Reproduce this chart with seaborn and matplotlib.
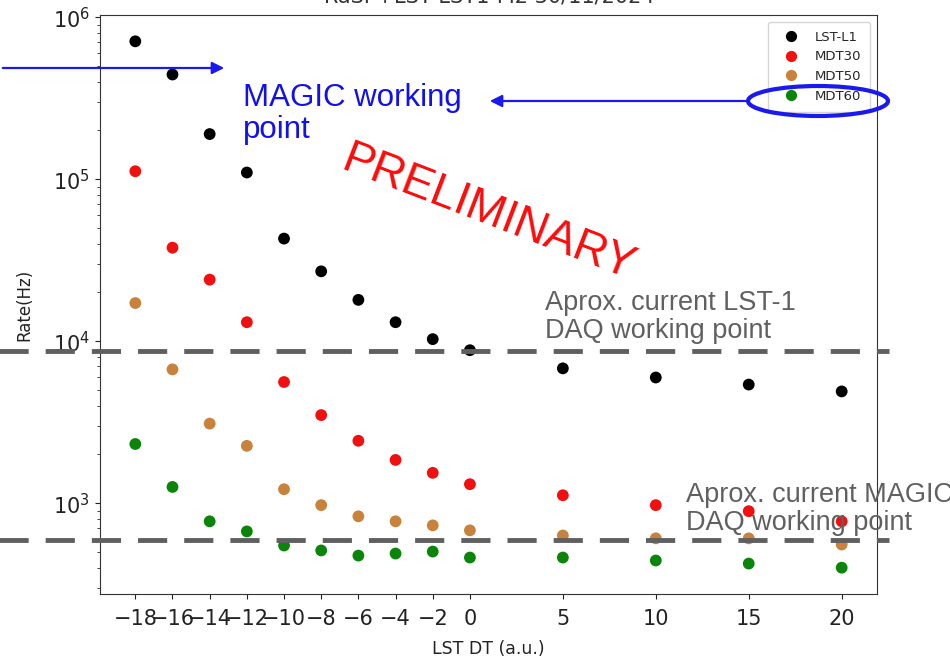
import matplotlib
matplotlib.use("Agg")
import matplotlib.pyplot as plt
from matplotlib.patches import Ellipse, FancyArrowPatch
import seaborn as sns
import pandas as pd

# trigger rates vs LST delay
dt = [-18, -16, -14, -12, -10, -8, -6, -4, -2, 0, 5, 10, 15, 20]
lst_l1 = [710e3, 443e3, 190e3, 110e3, 43e3, 27e3, 18e3, 13.1e3, 10.3e3, 8.8e3,
          6.8e3, 5.97e3, 5.4e3, 4.9e3]
mdt30 = [112e3, 37.8e3, 24e3, 13.1e3, 5.6e3, 3.5e3, 2.43e3, 1.85e3, 1.54e3,
         1.31e3, 1.12e3, 973, 893, 773]
mdt50 = [17.2e3, 6.7e3, 3.1e3, 2.26e3, 1.22e3, 973, 830, 773, 730, 680,
         632, 607, 607, 556]
mdt60 = [2320, 1260, 773, 670, 548, 511, 475, 489, 503, 462, 462, 443, 424, 400]
series_names = ["LST-L1", "MDT30", "MDT50", "MDT60"]
lst1_daq_rate = 8.7e3
magic_daq_rate = 590

df = pd.concat([
    pd.DataFrame({"dt": dt, "rate": vals, "trigger": name})
    for name, vals in zip(series_names, [lst_l1, mdt30, mdt50, mdt60])
])

sns.set_style("ticks")
W, H = 950, 661
fig = plt.figure(figsize=(9.5, 6.61), dpi=100)
ax = fig.add_axes([100 / W, 1 - 594 / H, 777 / W, 579 / H])

palette = {"LST-L1": "black", "MDT30": "#f01010", "MDT50": "#c8823c", "MDT60": "#0a850a"}
sns.scatterplot(data=df, x="dt", y="rate", hue="trigger", palette=palette,
                s=72, linewidth=0, ax=ax)
ax.set_yscale("log")
ax.set_xticks(dt)
ax.tick_params(axis="both", labelsize=15, colors="#222222")
ax.tick_params(axis="x", pad=7)
for sp in ax.spines.values():
    sp.set_color("#333333")
ax.set_xlabel("LST DT (a.u.)", fontsize=12.5, color="#222222", labelpad=8)
ax.set_ylabel("Rate(Hz)", fontsize=12, color="#222222", labelpad=14)
ax.legend(loc="upper right", fontsize=9.5, title=None, markerscale=0.95,
          handletextpad=0.8, borderpad=0.7)

# working point lines (overlay spans the whole slide)
for r in [lst1_daq_rate, magic_daq_rate]:
    ax.axhline(r, xmin=-0.13, xmax=1.015, clip_on=False, color="#5f5f5f",
               lw=3.5, ls=(0, (6, 3.5)), zorder=5)

# title, mostly cut off at the top of the screenshot
fig.text(0.515, 1 - 3 / H, "RaSP+LST LST1-M2 30/11/2024", ha="center",
         va="baseline", fontsize=15, color="#333333")


def fp(x, y):
    return (x / W, 1 - y / H)


ann_font = ["Liberation Sans", "DejaVu Sans"]
fig.text(*fp(243, 138), "MAGIC working\npoint", color="#1010f0", fontsize=22.5,
         family=ann_font, va="baseline", linespacing=1.1)
fig.text(*fp(488, 213), "PRELIMINARY", color="#ff0a0a", fontsize=33,
         family=ann_font, rotation=-21, ha="center", va="center",
         rotation_mode="anchor")
fig.text(*fp(545, 338), "Aprox. current LST-1\nDAQ working point", color="#606060",
         fontsize=19.5, family=ann_font, va="baseline", linespacing=1.12)
fig.text(*fp(686, 530), "Aprox. current MAGIC\nDAQ working point", color="#606060",
         fontsize=19.5, family=ann_font, va="baseline", linespacing=1.12)

arrow = dict(arrowstyle="-|>", color="#1a1aee", lw=1.6, mutation_scale=18)
fig.patches.append(FancyArrowPatch(fp(0, 68), fp(227, 68),
                                   transform=fig.transFigure, **arrow))
fig.patches.append(FancyArrowPatch(fp(748, 101), fp(487, 101),
                                   transform=fig.transFigure, **arrow))
fig.patches.append(Ellipse(fp(818, 101), 140 / W, 30 / H, transform=fig.transFigure,
                           fill=False, edgecolor="#1a1aee", lw=3))

fig.savefig("out.png", dpi=100)
